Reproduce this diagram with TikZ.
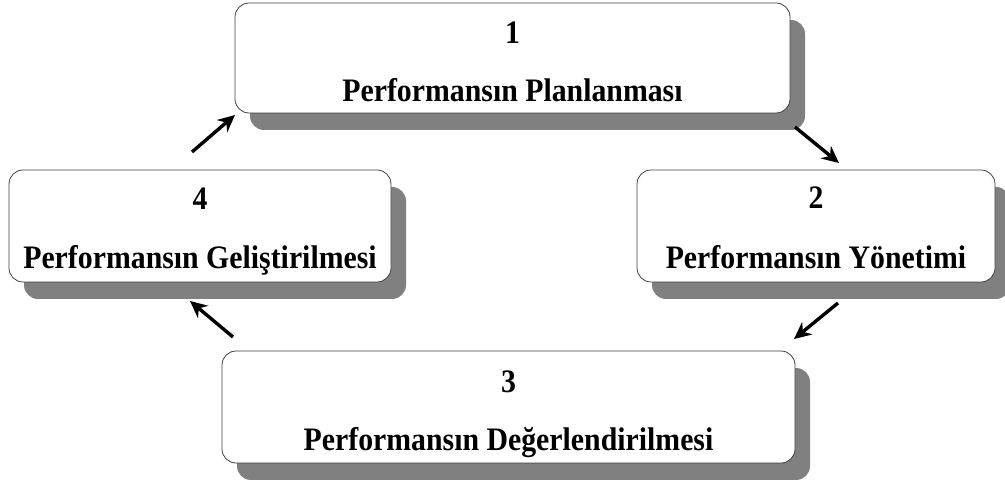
\documentclass[tikz,border=0pt]{standalone}
\usepackage{graphicx}
\usepackage{fontspec}
\setmainfont{Liberation Serif}
\usetikzlibrary{shadows,arrows.meta,calc}
\newcommand{\stxt}[1]{\scalebox{1}[1.1]{#1}}
\begin{document}
\begin{tikzpicture}[x=1pt,y=-1pt,
  stagebox/.style={draw=black!75, line width=0.8pt, fill=white, rounded corners=14pt, inner sep=0pt,
    drop shadow={shadow xshift=15pt, shadow yshift=-17pt, fill=black!50, opacity=1}},
  lbl/.style={font=\fontsize{29.8}{32}\selectfont\bfseries, inner sep=0pt},
  arr/.style={line width=3.4pt, -{Stealth[length=17pt,width=16pt]}}]
\useasboundingbox (0,0) rectangle (1005,486);

\node[stagebox, minimum width=555pt, minimum height=110pt] (b1) at (512.5,58) {};
\node[stagebox, minimum width=358pt, minimum height=112pt] (b2) at (816,226) {};
\node[stagebox, minimum width=382pt, minimum height=112pt] (b4) at (200,226) {};
\node[stagebox, minimum width=573pt, minimum height=112pt] (b3) at (508.5,407) {};

\node[lbl] (n1) at ($(b1.north)+(0,30)$) {\stxt{1}};
\node[lbl, anchor=base] (t1) at ($(b1.south)+(0,-12)$) {\stxt{Performansın Planlanması}};
\node[lbl] (n2) at ($(b2.north)+(0,28)$) {\stxt{2}};
\node[lbl, anchor=base] (t2) at ($(b2.south)+(0,-14)$) {\stxt{Performansın Yönetimi}};
\node[lbl] (n4) at ($(b4.north)+(0,29)$) {\stxt{4}};
\node[lbl, anchor=base] (t4) at ($(b4.south)+(0,-14)$) {\stxt{Performansın Geliştirilmesi}};
\node[lbl] (n3) at ($(b3.north)+(0,31)$) {\stxt{3}};
\node[lbl, anchor=base] (t3) at ($(b3.south)+(0,-13)$) {\stxt{Performansın Değerlendirilmesi}};

\coordinate (a12s) at (795,127);
\coordinate (a12e) at (839,163);
\coordinate (a23s) at (838,303);
\coordinate (a23e) at (794,339);
\coordinate (a34s) at (233,337);
\coordinate (a34e) at (190,301);
\coordinate (a41s) at (192,152);
\coordinate (a41e) at (235,115);

\draw[arr] (a12s) -- (a12e);
\draw[arr] (a23s) -- (a23e);
\draw[arr] (a34s) -- (a34e);
\draw[arr] (a41s) -- (a41e);
\end{tikzpicture}
\end{document}
